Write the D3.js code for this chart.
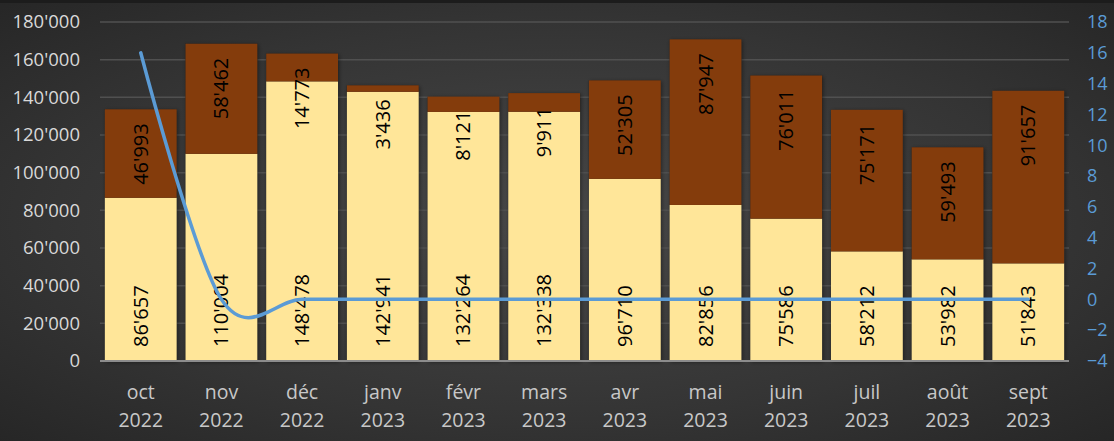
<!DOCTYPE html>
<html>
<head>
<meta charset="utf-8">
<script src="https://cdn.jsdelivr.net/npm/d3@7"></script>
<style>
  html, body { margin: 0; padding: 0; background: #262626; }
  #chart { width: 1114px; height: 441px; }
</style>
</head>
<body>
<div id="chart"></div>
<script>
var months = ['oct', 'nov', 'déc', 'janv', 'févr', 'mars', 'avr', 'mai', 'juin', 'juil', 'août', 'sept'];
var years = ['2022', '2022', '2022', '2023', '2023', '2023', '2023', '2023', '2023', '2023', '2023', '2023'];
var baseValues = [86657, 110004, 148478, 142941, 132264, 132338, 96710, 82856, 75586, 58212, 53982, 51843];
var topValues = [46993, 58462, 14773, 3436, 8121, 9911, 52305, 87947, 76011, 75171, 59493, 91657];
var lineValues = [16, 0, 0, 0, 0, 0, 0, 0, 0, 0, 0, 0];
var leftTicks = [0, 20000, 40000, 60000, 80000, 100000, 120000, 140000, 160000, 180000];
var rightTicks = [-4, -2, 0, 2, 4, 6, 8, 10, 12, 14, 16, 18];

var W = 1114, H = 441;
var plot = { left: 100, right: 1069, top: 22, bottom: 361 };
var font = '"Open Sans", "DejaVu Sans", sans-serif';

var svg = d3.select('#chart').append('svg')
  .attr('width', W)
  .attr('height', H);

var defs = svg.append('defs');

// background gradient
var grad = defs.append('radialGradient')
  .attr('id', 'bg')
  .attr('cx', '0.5').attr('cy', '0.5').attr('r', '0.75');
grad.append('stop').attr('offset', '0').attr('stop-color', '#484848');
grad.append('stop').attr('offset', '0.6').attr('stop-color', '#343434');
grad.append('stop').attr('offset', '1').attr('stop-color', '#242424');

var shadow = defs.append('filter').attr('id', 'shadow')
  .attr('x', '-20%').attr('y', '-20%').attr('width', '140%').attr('height', '140%');
shadow.append('feDropShadow')
  .attr('dx', 1).attr('dy', 1).attr('stdDeviation', 2)
  .attr('flood-color', '#000').attr('flood-opacity', 0.45);

svg.append('rect')
  .attr('width', W).attr('height', H)
  .attr('fill', 'url(#bg)');
svg.append('rect')
  .attr('width', W).attr('height', 3)
  .attr('fill', '#1c1c1c');

// scales
var x = d3.scaleBand()
  .domain(months)
  .range([plot.left, plot.right])
  .paddingInner(0.11)
  .paddingOuter(0.06);

var y = d3.scaleLinear()
  .domain([0, 180000])
  .range([plot.bottom, plot.top]);

var y2 = d3.scaleLinear()
  .domain([-4, 18])
  .range([plot.bottom, plot.top]);

// gridlines
svg.append('g')
  .attr('class', 'grid')
  .selectAll('line')
  .data(leftTicks.filter(function (d) { return d > 0; }))
  .enter()
  .append('line')
  .attr('x1', plot.left).attr('x2', plot.right)
  .attr('y1', function (d) { return y(d); })
  .attr('y2', function (d) { return y(d); })
  .attr('stroke', '#505050')
  .attr('stroke-width', 1.5);

// bars
var bars = svg.append('g').attr('class', 'bars');
bars.selectAll('rect.base')
  .data(baseValues)
  .enter()
  .append('rect')
  .attr('class', 'base')
  .attr('x', function (d, i) { return x(months[i]); })
  .attr('width', x.bandwidth())
  .attr('y', function (d, i) { return y(d + topValues[i]); })
  .attr('height', function (d, i) { return y(0) - y(d + topValues[i]); })
  .attr('fill', '#222')
  .attr('filter', 'url(#shadow)');

bars.selectAll('rect.bottom')
  .data(baseValues)
  .enter()
  .append('rect')
  .attr('class', 'bottom')
  .attr('x', function (d, i) { return x(months[i]); })
  .attr('width', x.bandwidth())
  .attr('y', function (d) { return y(d); })
  .attr('height', function (d) { return y(0) - y(d); })
  .attr('fill', '#FFE699');

bars.selectAll('rect.top')
  .data(topValues)
  .enter()
  .append('rect')
  .attr('class', 'top')
  .attr('x', function (d, i) { return x(months[i]); })
  .attr('width', x.bandwidth())
  .attr('y', function (d, i) { return y(baseValues[i] + d); })
  .attr('height', function (d, i) { return y(baseValues[i]) - y(baseValues[i] + d); })
  .attr('fill', '#843C0C');

// baseline
svg.append('line')
  .attr('x1', plot.left).attr('x2', plot.right)
  .attr('y1', y(0)).attr('y2', y(0))
  .attr('stroke', '#8c8c8c')
  .attr('stroke-width', 2);

// number format 12'345
function fmt(v) {
  return d3.format(',')(v).replace(/,/g, "'");
}

// data labels
var labels = svg.append('g').attr('class', 'labels')
  .style('font-family', font)
  .style('font-size', '20px')
  .attr('fill', '#000');

labels.selectAll('text.lb')
  .data(baseValues)
  .enter()
  .append('text')
  .attr('class', 'lb')
  .attr('transform', function (d, i) {
    return 'translate(' + (x(months[i]) + x.bandwidth() / 2) + ',' + (y(0) - 14) + ') rotate(-90)';
  })
  .attr('dy', '0.35em')
  .attr('text-anchor', 'start')
  .text(function (d) { return fmt(d); });

labels.selectAll('text.lt')
  .data(topValues)
  .enter()
  .append('text')
  .attr('class', 'lt')
  .attr('transform', function (d, i) {
    return 'translate(' + (x(months[i]) + x.bandwidth() / 2) + ',' + (y(baseValues[i] + d) + 14) + ') rotate(-90)';
  })
  .attr('dy', '0.35em')
  .attr('text-anchor', 'end')
  .text(function (d) { return fmt(d); });

// line on right axis
var line = d3.line()
  .x(function (d, i) { return x(months[i]) + x.bandwidth() / 2; })
  .y(function (d) { return y2(d); })
  .curve(d3.curveCardinal.tension(0));

svg.append('path')
  .attr('d', line(lineValues))
  .attr('fill', 'none')
  .attr('stroke', '#5B9BD5')
  .attr('stroke-width', 3.5)
  .attr('stroke-linecap', 'round');

// left axis
var axisL = d3.axisLeft(y)
  .tickValues(leftTicks)
  .tickSize(0)
  .tickPadding(0)
  .tickFormat(fmt);
var gL = svg.append('g')
  .attr('transform', 'translate(80,0)')
  .call(axisL);
gL.selectAll('text')
  .attr('fill', '#d9d9d9')
  .style('font-family', font)
  .style('font-size', '18.5px');

// right axis
var axisR = d3.axisRight(y2)
  .tickValues(rightTicks)
  .tickSize(0)
  .tickPadding(0);
var gR = svg.append('g')
  .attr('transform', 'translate(1087,0)')
  .call(axisR);
gR.selectAll('text')
  .attr('fill', '#5B9BD5')
  .style('font-family', font)
  .style('font-size', '18px');

svg.selectAll('.domain').remove();

// x axis labels (two lines)
var xl = svg.append('g').attr('class', 'xlabels')
  .style('font-family', font)
  .style('font-size', '19.5px')
  .attr('fill', '#c8c8c8')
  .attr('text-anchor', 'middle');
var xt = xl.selectAll('text')
  .data(months)
  .enter()
  .append('text')
  .attr('x', function (d) { return x(d) + x.bandwidth() / 2; })
  .attr('y', 399);
xt.append('tspan')
  .text(function (d) { return d; });
xt.append('tspan')
  .attr('x', function (d) { return x(d) + x.bandwidth() / 2; })
  .attr('dy', 28)
  .text(function (d, i) { return years[i]; });
</script>
</body>
</html>
